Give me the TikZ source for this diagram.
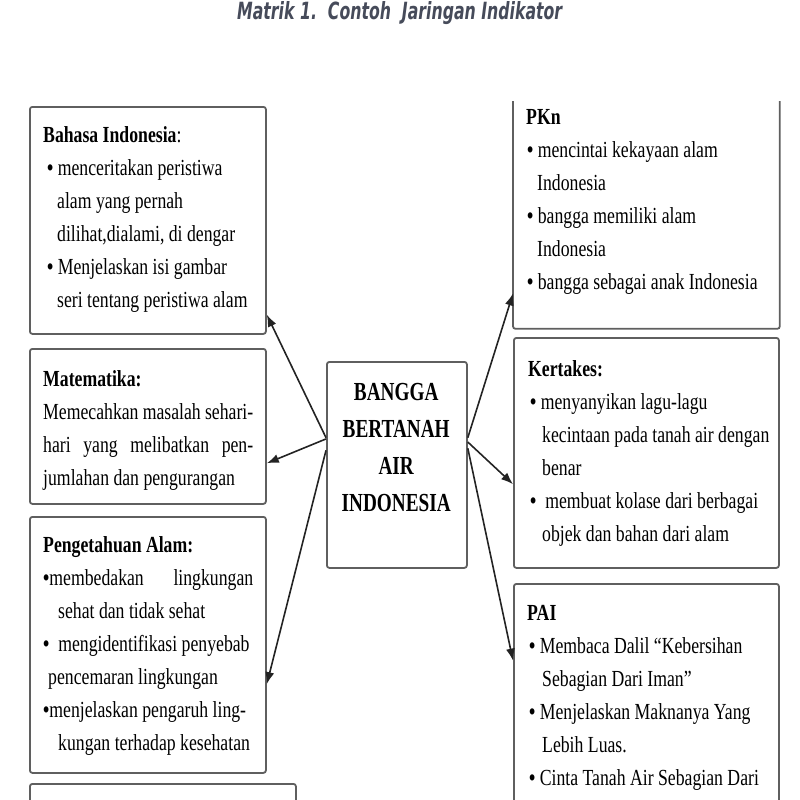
\documentclass[tikz,border=0pt]{standalone}
\usepackage{fontspec}
\usepackage{graphicx}
\usetikzlibrary{calc,arrows.meta}
\newfontfamily\bodyfont[FakeStretch=0.77]{Liberation Serif}
\newfontfamily\centfont[FakeStretch=0.74]{Liberation Serif}
\newfontfamily\ttlfont{DejaVu Sans}
\definecolor{boxgray}{RGB}{95,95,95}
\definecolor{ttlcol}{RGB}{70,75,90}
\definecolor{arrcol}{RGB}{35,35,35}
\newcommand{\bfnt}{\bodyfont\fontsize{23}{33}\selectfont}
\newcommand{\cfnt}{\centfont\fontsize{26}{37}\selectfont}
\newcommand{\bul}{\textbf{\textbullet}}
\begin{document}
\begin{tikzpicture}[x=1pt,y=-1pt,
  box/.style={draw=boxgray, line width=1.8pt, rounded corners=2.5pt, inner sep=0pt, anchor=north west},
  txt/.style={anchor=base west, inner sep=0pt},
  arr/.style={draw=arrcol, line width=1.6pt, -{Latex[length=12pt,width=9pt]}}]
\useasboundingbox (0,0) rectangle (800,800);
\clip (0,0) rectangle (800,800);
% title
\node[txt, text=ttlcol] (ttl) at (237,20) {\resizebox{325pt}{18pt}{\ttlfont\bfseries\itshape Matrik 1.\ \ Contoh\ \ Jaringan Indikator}};
% boxes
\node[box, minimum width=236pt, minimum height=227pt] (bi) at (29,106) {};
\node[box, minimum width=236pt, minimum height=155pt] (mt) at (29,348) {};
\node[box, minimum width=236pt, minimum height=256pt] (pa) at (29,516) {};
\node[box, minimum width=266pt, minimum height=100pt] (bb) at (29,783) {};
\node[box, minimum width=140pt, minimum height=206pt] (c) at (326,361) {};
\node[box, draw=none, minimum width=265pt, minimum height=226pt] (pk) at (513,101) {};
\draw[draw=boxgray, line width=1.8pt, rounded corners=2.5pt] (pk.north west) -- (pk.south west) -- (pk.south east) -- (pk.north east);
\node[box, minimum width=265pt, minimum height=230pt] (kt) at (513,337) {};
\node[box, minimum width=265pt, minimum height=300pt] (pai) at (513,583) {};
% texts
\node[txt] (bit) at (43,142) {\parbox[t]{230pt}{\bfnt\textbf{Bahasa Indonesia}:\\
\hspace*{4pt}\bul\ menceritakan peristiwa\\
\hspace*{14pt}alam yang pernah\\
\hspace*{14pt}dilihat,dialami, di dengar\\
\hspace*{4pt}\bul\ Menjelaskan isi gambar\\
\hspace*{14pt}seri tentang peristiwa alam}};
\node[txt] (mtt) at (43,386) {\parbox[t]{230pt}{\bfnt\textbf{Matematika:}\\
\makebox[210pt][s]{Memecahkan masalah sehari-}\\
\makebox[210pt][s]{hari yang melibatkan pen-}\\
jumlahan dan pengurangan}};
\node[txt] (pat) at (43,552) {\parbox[t]{230pt}{\bfnt\textbf{Pengetahuan Alam:}\\
\makebox[210pt][s]{\bul membedakan lingkungan}\\
\hspace*{15pt}sehat dan tidak sehat\\
\bul\ \ mengidentifikasi penyebab\\
\hspace*{5pt}pencemaran lingkungan\\
\bul menjelaskan pengaruh ling-\\
\hspace*{15pt}kungan terhadap kesehatan}};
\node[txt] (ct) at (326,400) {\parbox[t]{140pt}{\centering\cfnt\bfseries BANGGA\\ BERTANAH\\ AIR\\ INDONESIA}};
\node[txt] (pkt) at (526,124) {\parbox[t]{250pt}{\bfnt\textbf{PKn}\\
\hspace*{1pt}\bul\ mencintai kekayaan alam\\
\hspace*{11pt}Indonesia\\
\hspace*{1pt}\bul\ bangga memiliki alam\\
\hspace*{11pt}Indonesia\\
\hspace*{1pt}\bul\ bangga sebagai anak Indonesia}};
\node[txt] (ktt) at (528,376) {\parbox[t]{250pt}{\bfnt\textbf{Kertakes:}\\
\hspace*{2pt}\bul\ menyanyikan lagu-lagu\\
\hspace*{14pt}kecintaan pada tanah air dengan\\
\hspace*{14pt}benar\\
\hspace*{2pt}\bul\ \ membuat kolase dari berbagai\\
\hspace*{14pt}objek dan bahan dari alam}};
\node[txt] (pait) at (527,620) {\parbox[t]{250pt}{\bfnt\textbf{PAI}\\
\hspace*{2pt}\bul\ Membaca Dalil “Kebersihan\\
\hspace*{15pt}Sebagian Dari Iman”\\
\hspace*{2pt}\bul\ Menjelaskan Maknanya Yang\\
\hspace*{15pt}Lebih Luas.\\
\hspace*{2pt}\bul\ Cinta Tanah Air Sebagian Dari\\
\hspace*{15pt}Iman}};
% arrows
\draw[arr] ($(c.north west)!0.369!(c.south west)$) -- ($(bi.north east)!0.912!(bi.south east)$);
\draw[arr] ($(c.north west)!0.375!(c.south west)$) -- ($(mt.north east)!0.735!(mt.south east)$);
\draw[arr] ($(c.north west)!0.43!(c.south west)$) -- ($(pa.north east)!0.652!(pa.south east)$);
\draw[arr] ($(c.north east)!0.369!(c.south east)$) -- ($(pk.north west)!0.845!(pk.south west)$);
\draw[arr] ($(c.north east)!0.39!(c.south east)$) -- ($(kt.north west)!0.635!(kt.south west)$);
\draw[arr] ($(c.north east)!0.42!(c.south east)$) -- ($(pai.north west)!0.257!(pai.south west)$);
\end{tikzpicture}
\end{document}
